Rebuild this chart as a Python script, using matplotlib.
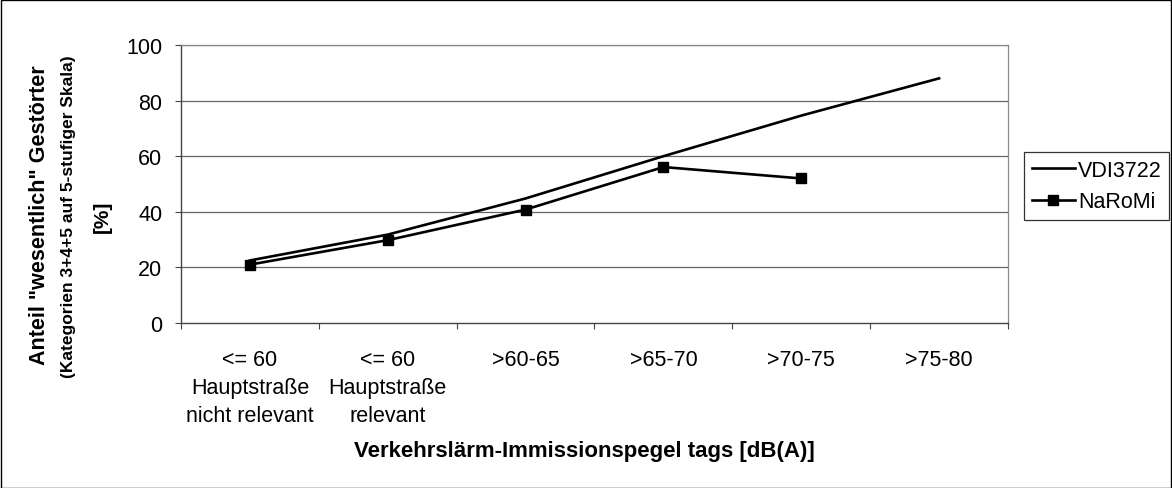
import matplotlib
matplotlib.use("Agg")
import matplotlib.pyplot as plt
from matplotlib.patches import Rectangle

plt.rcParams['font.family'] = ['Liberation Sans', 'DejaVu Sans']

categories = ["<= 60\nHauptstraße\nnicht relevant", "<= 60\nHauptstraße\nrelevant",
              ">60-65", ">65-70", ">70-75", ">75-80"]
vdi3722 = [22.5, 31.8, 44.8, 60.0, 74.6, 88.0]
naromi = [21.0, 29.8, 40.8, 56.1, 52.0]
yticks = [0, 20, 40, 60, 80, 100]

fig = plt.figure(figsize=(11.72, 4.89), dpi=100)
ax = fig.add_axes([181/1172, 1-324/489, (1008-181)/1172, (324-46)/489])

x = list(range(len(categories)))
ax.plot(x, vdi3722, color='black', lw=1.9, label='VDI3722', zorder=3)
ax.plot(x[:len(naromi)], naromi, color='black', lw=1.9, marker='s', markersize=7,
        label='NaRoMi', zorder=4)

ax.set_xlim(-0.5, len(categories) - 0.5)
ax.set_ylim(0, 100)
ax.set_yticks(yticks)
ax.set_yticklabels([str(v) for v in yticks], fontsize=15.5)
ax.set_xticks([i - 0.5 for i in range(len(categories) + 1)])
ax.set_xticklabels([])
ax.set_xticks(x, minor=True)
ax.set_xticklabels(categories, minor=True, fontsize=15.5, linespacing=1.42)
ax.tick_params(axis='x', which='minor', length=0, pad=19)
ax.tick_params(axis='x', which='major', length=4.5, direction='out', color='#444444')
ax.tick_params(axis='y', length=4.5, direction='out', color='#444444', pad=9)

for v in yticks[1:]:
    ax.axhline(v, color='#666666', lw=0.9, zorder=1)
for s in ['top', 'right']:
    ax.spines[s].set_color('#888888')
    ax.spines[s].set_linewidth(0.9)
for s in ['left', 'bottom']:
    ax.spines[s].set_color('#444444')
    ax.spines[s].set_linewidth(1.0)

fig.text((350+818)/2/1172, 1-452/489, "Verkehrslärm-Immissionspegel tags [dB(A)]",
         fontsize=16, fontweight='bold', ha='center', va='center')

fig.text(40/1172, 1-215/489, 'Anteil "wesentlich" Gestörter', rotation=90, fontsize=15.5,
         fontweight='bold', ha='center', va='center')
fig.text(69/1172, 1-217/489, '(Kategorien 3+4+5 auf 5-stufiger Skala)', rotation=90,
         fontsize=12.5, fontweight='bold', ha='center', va='center')
fig.text(102/1172, 1-217/489, '[%]', rotation=90, fontsize=15,
         fontweight='bold', ha='center', va='center')

leg = fig.legend(loc='upper left', bbox_to_anchor=(1024/1172, 1-153/489), frameon=True,
                 fancybox=False, edgecolor='black', fontsize=15.5, handlelength=2.0,
                 handletextpad=0.15, borderpad=0.35, labelspacing=0.5, borderaxespad=0)
leg.get_frame().set_linewidth(0.9)

fig.patches.append(Rectangle((0.5/1172, 0.5/489), 1-1.5/1172, 1-1.5/489, transform=fig.transFigure,
                             fill=False, edgecolor='black', lw=1.0))

fig.savefig('out.png', dpi=100)
